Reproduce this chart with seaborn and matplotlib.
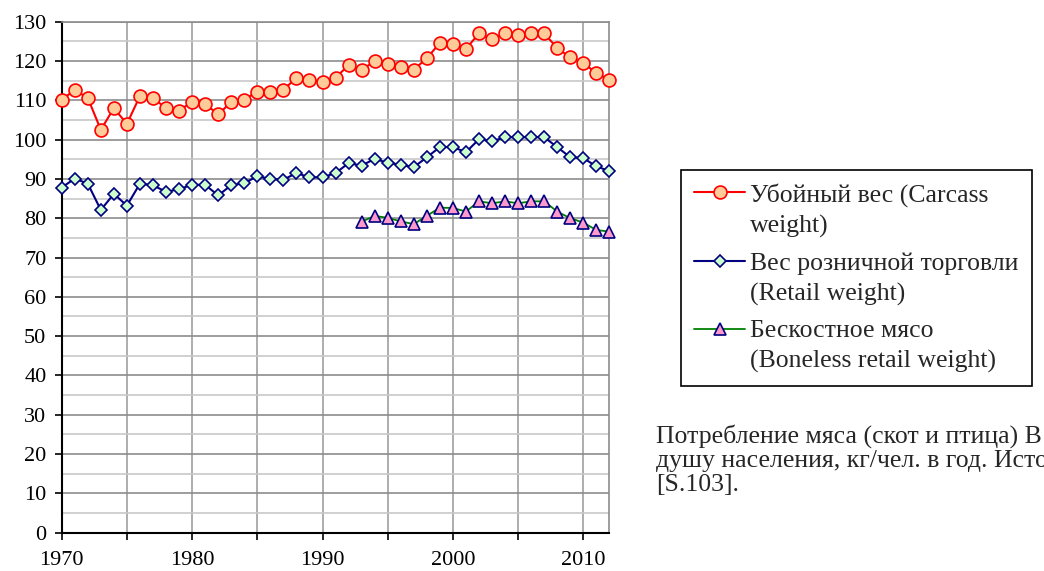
import numpy as np
import pandas as pd
import seaborn as sns
import matplotlib.pyplot as plt
from matplotlib.ticker import MultipleLocator, FuncFormatter

# Meat consumption per capita, kg/person/year
years = list(range(1970, 2013))
carcass = [110.2, 112.6, 110.6, 102.5, 108.0, 104.0, 111.1, 110.6, 108.0, 107.4,
           109.6, 109.1, 106.4, 109.6, 110.2, 112.2, 112.2, 112.6, 115.8, 115.2,
           114.6, 115.8, 118.9, 117.8, 119.9, 119.3, 118.5, 117.8, 120.7, 124.6,
           124.4, 123.1, 127.0, 125.5, 127.0, 126.6, 127.0, 127.0, 123.3, 120.9,
           119.5, 116.9, 115.2]
retail = [87.8, 90.1, 88.8, 82.1, 86.2, 83.2, 88.8, 88.4, 86.7, 87.4,
          88.5, 88.5, 85.8, 88.4, 88.9, 90.7, 90.0, 89.8, 91.5, 90.4,
          90.4, 91.5, 94.0, 93.4, 95.1, 94.1, 93.6, 93.0, 95.5, 98.1,
          98.1, 96.8, 100.1, 99.6, 100.6, 100.6, 100.6, 100.6, 98.1, 95.5,
          95.3, 93.2, 92.0]
boneless_years = list(range(1993, 2013))
boneless = [79.1, 80.6, 80.1, 79.2, 78.5, 80.6, 82.7, 82.6, 81.7, 84.3,
            83.8, 84.3, 83.8, 84.3, 84.3, 81.7, 80.0, 78.9, 77.0, 76.6]

labels = ["Убойный вес (Carcass\nweight)",
          "Вес розничной торговли\n(Retail weight)",
          "Бескостное мясо\n(Boneless retail weight)"]
caption = ("Потребление мяса (скот и птица) В США на\n"
           "душу населения, кг/чел. в год. Источник:\n"
           "[S.103].")

sns.set_style("white")
plt.rcParams['font.family'] = ['Liberation Serif', 'DejaVu Serif']

fig, ax = plt.subplots(figsize=(10.44, 5.71), dpi=100)
fig.subplots_adjust(left=0.0591, right=0.5837, bottom=0.0671, top=0.962)

sns.lineplot(x=years, y=carcass, ax=ax, color='#FF0000', linewidth=1.5,
             marker='o', markersize=9.3, markerfacecolor='#FFCC99',
             markeredgecolor='#FF0000', markeredgewidth=1.2,
             label=labels[0], clip_on=False, zorder=4)
sns.lineplot(x=years, y=retail, ax=ax, color='#000080', linewidth=1.5,
             marker='D', markersize=6.4, markerfacecolor='#CCFFCC',
             markeredgecolor='#000080', markeredgewidth=1.2,
             label=labels[1], clip_on=False, zorder=4)
sns.lineplot(x=boneless_years, y=boneless, ax=ax, color='#008000', linewidth=1.3,
             marker='^', markersize=8.7, markerfacecolor='#FF99CC',
             markeredgecolor='#000080', markeredgewidth=1.2,
             label=labels[2], clip_on=False, zorder=4)

ax.set_xlim(1970, 2012)
ax.set_ylim(0, 130)
ax.xaxis.set_major_locator(MultipleLocator(5))
ax.xaxis.set_major_formatter(FuncFormatter(lambda v, p: str(int(v)) if v % 10 == 0 else ''))
ax.yaxis.set_major_locator(MultipleLocator(10))
ax.yaxis.set_minor_locator(MultipleLocator(5))

ax.grid(axis='x', which='major', color='#A0A0A0', linewidth=1.2)
ax.grid(axis='y', which='major', color='#8C8C8C', linewidth=1.2)
ax.grid(axis='y', which='minor', color='#C8C8C8', linewidth=1.2)
ax.set_axisbelow(True)

ax.tick_params(axis='both', which='major', direction='out', length=5, width=1.2,
               color='black', labelsize=16, labelcolor='black',
               left=True, bottom=True)
ax.tick_params(axis='x', pad=8)
ax.tick_params(axis='y', pad=6)
ax.tick_params(which='minor', length=0)

for side in ['left', 'bottom']:
    ax.spines[side].set_color('black')
    ax.spines[side].set_linewidth(1.5)
for side in ['top', 'right']:
    ax.spines[side].set_color('#8C8C8C')
    ax.spines[side].set_linewidth(1.2)

ax.set_xlabel('')
ax.set_ylabel('')

leg = ax.legend(loc='upper left', bbox_to_anchor=(681 / 1044, 1 - 170 / 571),
                bbox_transform=fig.transFigure, borderaxespad=0,
                fontsize=18.5, frameon=True, fancybox=False, framealpha=1,
                edgecolor='black', handlelength=2.0, handletextpad=0.2,
                borderpad=0.5, labelspacing=0.56)
leg.get_frame().set_linewidth(1.2)
for t in leg.get_texts():
    t.set_linespacing(1.45)
# put each marker next to the first line of its label
for row in leg._legend_handle_box.get_children():
    for item in row.get_children():
        item.align = 'top'

fig.text(656 / 1044, 1 - 424 / 571, caption, fontsize=18.5, va='top', ha='left',
         linespacing=1.12)

fig.savefig('out.png', dpi=100)
